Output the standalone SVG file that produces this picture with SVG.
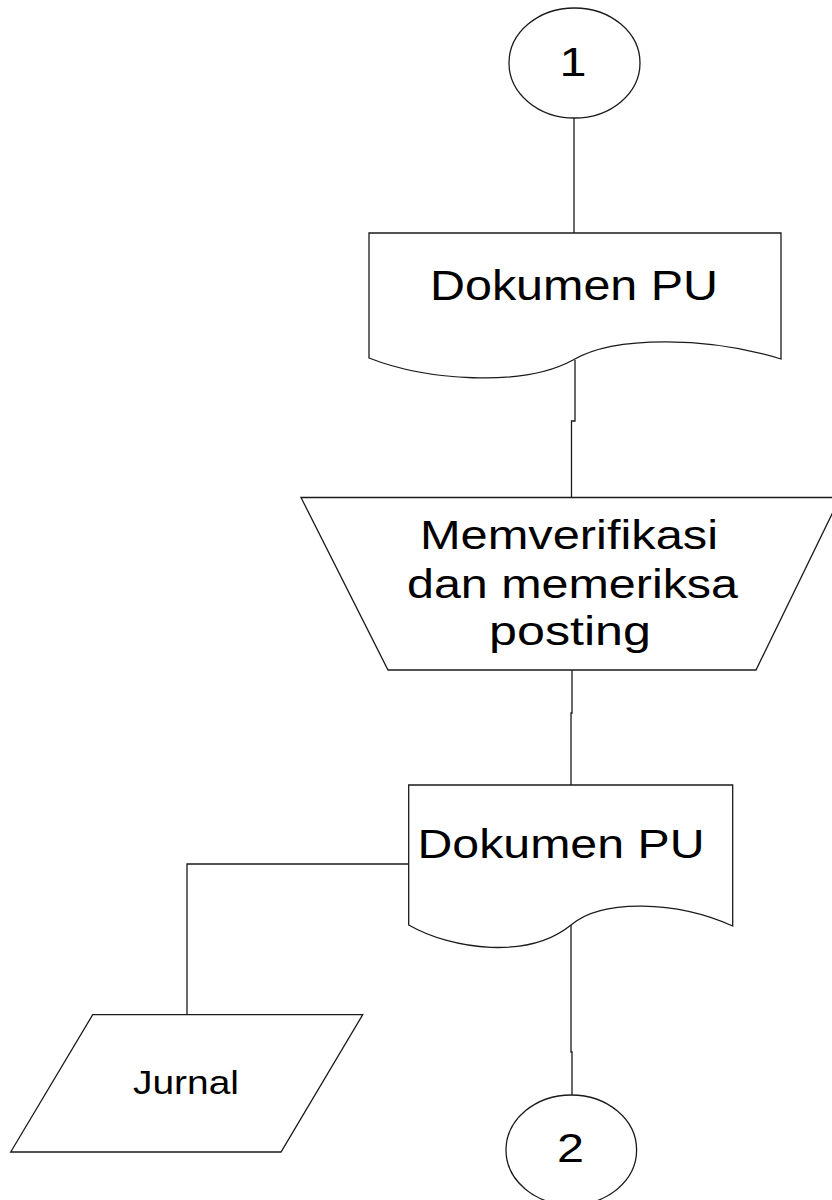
<svg xmlns="http://www.w3.org/2000/svg" width="832" height="1200" viewBox="0 0 832 1200">
  <style>
    .shape { fill: #ffffff; stroke: #1a1a1a; stroke-width: 1.3; }
    .wire { fill: none; stroke: #1a1a1a; stroke-width: 1.3; }
    .label { font-family: "Liberation Sans", Arial, sans-serif; fill: #000000; text-anchor: middle; }
  </style>
  <rect width="832" height="1200" fill="#ffffff"/>

  <!-- connectors -->
  <g id="connectors">
    <path class="wire" d="M574,118 V233"/>
    <path class="wire" d="M575,360 V421 H571.5 V497"/>
    <path class="wire" d="M572,670 V713 H571 V785"/>
    <path class="wire" d="M571,925 V1052 H572 V1095"/>
    <path class="wire" d="M408.7,864 H187 V1015"/>
  </g>

  <!-- off-page connector 1 -->
  <g id="connector-1">
    <ellipse class="shape" cx="574.5" cy="63" rx="65.5" ry="55"/>
    <text class="label" x="573" y="76" font-size="40" textLength="27" lengthAdjust="spacingAndGlyphs">1</text>
  </g>

  <!-- document: Dokumen PU -->
  <g id="dokumen-pu-1">
    <path class="shape" d="M369,233 H781 V359 C710,337 615,335 573,360 C522,388 425,380 369,358 Z"/>
    <text class="label" x="574" y="300" font-size="42" textLength="288" lengthAdjust="spacingAndGlyphs">Dokumen PU</text>
  </g>

  <!-- manual operation -->
  <g id="memverifikasi">
    <path class="shape" d="M301,497.5 H840 L756,670 H388 Z"/>
    <text class="label" x="569" y="549" font-size="40" textLength="298" lengthAdjust="spacingAndGlyphs">Memverifikasi</text>
    <text class="label" x="572.5" y="598" font-size="40" textLength="331" lengthAdjust="spacingAndGlyphs">dan memeriksa</text>
    <text class="label" x="570" y="645" font-size="40" textLength="162" lengthAdjust="spacingAndGlyphs">posting</text>
  </g>

  <!-- document: Dokumen PU -->
  <g id="dokumen-pu-2">
    <path class="shape" d="M408.7,785 H732.7 V926 C676.7,900.8 602.1,898.5 571,925 C529,959.4 452.7,950.2 408.7,925 Z"/>
    <text class="label" x="561" y="858" font-size="40" textLength="287" lengthAdjust="spacingAndGlyphs">Dokumen PU</text>
  </g>

  <!-- input/output: Jurnal -->
  <g id="jurnal">
    <path class="shape" d="M92.7,1014.7 H362.7 L281,1152 H10.7 Z"/>
    <text class="label" x="186" y="1094" font-size="33" textLength="106" lengthAdjust="spacingAndGlyphs">Jurnal</text>
  </g>

  <!-- off-page connector 2 -->
  <g id="connector-2">
    <ellipse class="shape" cx="571.3" cy="1150" rx="65.3" ry="55"/>
    <text class="label" x="570.5" y="1161.5" font-size="40" textLength="27" lengthAdjust="spacingAndGlyphs">2</text>
  </g>
</svg>
